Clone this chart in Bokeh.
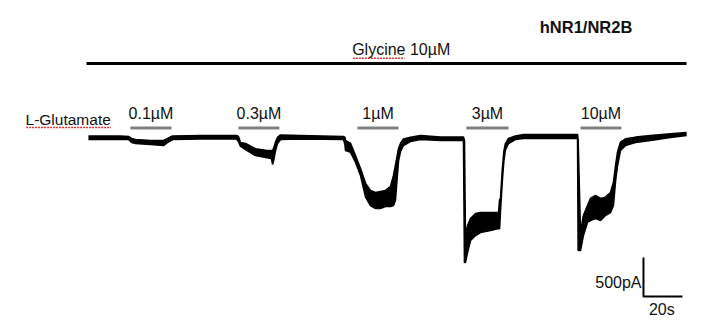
from bokeh.plotting import figure
from bokeh.models import Range1d
from bokeh.core.properties import value
from bokeh.embed import file_html
from bokeh.resources import INLINE

# ---- data (time in s, current in pA) ----
t_s = [0, 6.2, 16.4, 20.5, 22.1, 24.1, 31.8, 38.5, 40.5, 43.1, 57.4, 75.9,
       76.9, 77.9, 80.5, 85.6, 90.8, 93.8, 94.4, 94.9, 95.9, 96.9, 98.5, 108.7,
       130.8, 131.5, 131.8, 134.4, 136.9, 139.5, 142.1, 144.6, 147.2, 149.7,
       152.3, 154.9, 156.4, 157.4, 159.0, 160.0, 161.5, 165.1, 170.3, 180.5,
       192.3, 192.8, 193.3, 194.4, 195.9, 198.5, 201.0, 206.2, 210.3, 210.8,
       211.3, 212.2, 213.0, 213.8, 215.4, 218.9, 223.1, 236.9, 250.8, 251.1,
       252.3, 253.8, 255.9, 257.4, 260.0, 262.6, 265.1, 267.7, 269.2, 270.3,
       271.3, 272.8, 275.4, 280.5, 288.2, 298.5, 306.7]
i_upper = [19, 19, 19, 13, -13, -26, -38, -38, -13, 19, 26, 26,
           13, -64, -77, -145, -163, -167, -167, -140, -60, 0, 32, 26,
           13, 0, -38, -77, -231, -397, -590, -679, -705, -692,
           -679, -628, -487, -359, -141, -77, -20, 4, 26, 6,
           6, -40, -1280, -1128, -1038, -974, -962, -962, -962, -800,
           -780, -410, -180, -80, -13, 19, 38, 38, 38, -40,
           -1214, -1000, -872, -782, -744, -782, -765, -705, -573, -359,
           -188, -60, -17, 4, 26, 47, 64]
i_lower = [-26, -26, -26, -26, -64, -77, -90, -103, -64, -26, -19, -19,
           -51, -111, -154, -231, -256, -269, -346, -300, -167, -77, -26, -19,
           -26, -90, -167, -190, -317, -487, -765, -872, -910, -910,
           -885, -885, -872, -808, -295, -180, -103, -51, -26, -38,
           -38, -1603, -1603, -1471, -1320, -1256, -1218, -1192, -1167, -1170,
           -930, -560, -300, -160, -77, -26, -13, -13, -13, -1449,
           -1449, -1256, -1086, -1064, -1038, -1064, -1000, -962, -872, -551,
           -359, -167, -103, -64, -38, 0, 26]

pulse_labels = ["0.1µM", "0.3µM", "1µM", "3µM", "10µM"]
pulse_start = [21.5, 76.9, 137.9, 193.8, 252.3]
pulse_end = [42.6, 97.9, 159.0, 215.4, 273.3]

glycine_start, glycine_end = -1.0, 306.7
scale_t, scale_i = 20, 500

# ---- figure ----
p = figure(width=702, height=327, output_backend="svg", toolbar_location=None,
           x_range=Range1d(-45.13, 314.87), y_range=Range1d(-2436, 1756),
           min_border=0)
p.xaxis.visible = False
p.yaxis.visible = False
p.grid.visible = False
p.outline_line_color = None
p.background_fill_color = "white"
p.border_fill_color = "white"

FONT = value("Liberation Sans")
DY = 72  # text baseline correction

# trace
p.varea(x=t_s, y1=i_lower, y2=i_upper, fill_color="black")
p.line(t_s, i_upper, line_color="black", line_width=1.6)
p.line(t_s, i_lower, line_color="black", line_width=1.6)

# glycine bar
p.segment(x0=[glycine_start], x1=[glycine_end], y0=[949], y1=[949],
          line_color="black", line_width=3)
p.text(x=[135.2], y=[1051 + DY], text=["Glycine 10µM"], text_font=FONT,
       text_font_size="16px", text_color="#111111", text_baseline="alphabetic")
p.line([135.6, 162.0], [1017, 1017], line_color="#e03030", line_width=1.5, line_dash="2 1")

# title
p.text(x=[231.4], y=[1342 + DY], text=["hNR1/NR2B"], text_font=FONT,
       text_font_size="16.5px", text_font_style="bold", text_color="#111111",
       text_baseline="alphabetic")

# glutamate pulses
mids = [(a + b) / 2 for a, b in zip(pulse_start, pulse_end)]
p.segment(x0=pulse_start, x1=pulse_end, y0=[122] * 5, y1=[122] * 5,
          line_color="#808080", line_width=3)
p.text(x=mids, y=[231 + DY] * 5, text=pulse_labels, text_font=FONT,
       text_font_size="16px", text_color="#111111", text_align="center",
       text_baseline="alphabetic")
p.text(x=[-32.3], y=[154 + DY], text=["L-Glutamate"], text_font=FONT,
       text_font_size="15.5px", text_color="#111111", text_baseline="alphabetic")
p.line([-32.0, 11.5], [128, 128], line_color="#e03030", line_width=1.5, line_dash="2 1")

# scale bar
sx0, sy0 = 284.6, -2038
p.line([sx0, sx0, sx0 + scale_t], [sy0 + scale_i, sy0, sy0], line_color="black", line_width=2)
p.text(x=[283.6], y=[-1927 + DY], text=["500pA"], text_font=FONT, text_font_size="16px",
       text_color="#111111", text_align="right", text_baseline="alphabetic")
p.text(x=[sx0 + scale_t / 2 - 0.6], y=[-2282 + DY], text=["20s"], text_font=FONT,
       text_font_size="16px", text_color="#111111", text_align="center",
       text_baseline="alphabetic")

open("out.html", "w").write(file_html(p, INLINE))
